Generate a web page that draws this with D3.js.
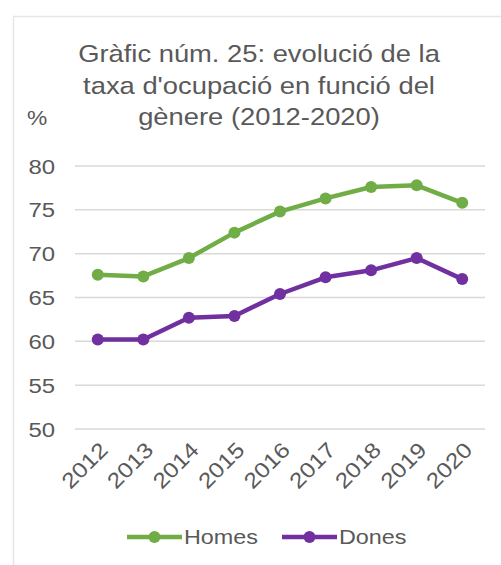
<!DOCTYPE html>
<html>
<head>
<meta charset="utf-8">
<script src="https://cdn.jsdelivr.net/npm/d3@7"></script>
<style>
body { margin: 0; background: #fff; }
text { font-family: "Liberation Sans", Arial, sans-serif; fill: #595959; }
</style>
</head>
<body>
<svg id="chart" width="501" height="565"></svg>
<script>
var years = ["2012", "2013", "2014", "2015", "2016", "2017", "2018", "2019", "2020"];
var homes = [67.6, 67.4, 69.5, 72.4, 74.8, 76.3, 77.6, 77.8, 75.8];
var dones = [60.2, 60.2, 62.7, 62.9, 65.4, 67.3, 68.1, 69.5, 67.1];
var yTicks = [50, 55, 60, 65, 70, 75, 80];
var titleLines = ["Gràfic núm. 25: evolució de la", "taxa d'ocupació en funció del", "gènere (2012-2020)"];

var series = [
    {name: "Homes", values: homes, color: "#70ad47"},
    {name: "Dones", values: dones, color: "#7030a0"}
];

var width = 501, height = 565;
var plot = {left: 75, right: 485, top: 166, bottom: 429};
var stretch = 1.14; // text in the source looks a bit wide

var svg = d3.select("#chart");

function at(px, py, extra) {
    return "translate(" + px + "," + py + ")" + (extra || "") + " scale(" + stretch + ",1)";
}

// outer frame
svg.append("rect")
    .attr("x", 13.5).attr("y", 16.5)
    .attr("width", width + 20).attr("height", height)
    .attr("fill", "none")
    .attr("stroke", "#e6e6e6")
    .attr("stroke-width", 1.5);

// title
svg.append("g").selectAll("text")
    .data(titleLines)
    .enter()
    .append("text")
    .attr("transform", (d, i) => at(259, 62 + i * 31.7))
    .attr("text-anchor", "middle")
    .attr("font-size", 24)
    .text(d => d);

svg.append("text")
    .attr("transform", at(27, 125))
    .attr("font-size", 20)
    .text("%");

var x = d3.scalePoint()
    .domain(years)
    .range([plot.left, plot.right])
    .padding(0.5);

var y = d3.scaleLinear()
    .domain([50, 80])
    .range([plot.bottom, plot.top]);

// gridlines
svg.append("g").selectAll("line")
    .data(yTicks)
    .enter()
    .append("line")
    .attr("x1", plot.left).attr("x2", plot.right)
    .attr("y1", d => y(d)).attr("y2", d => y(d))
    .attr("stroke", "#d9d9d9")
    .attr("stroke-width", 1.5);

// y labels
svg.append("g").selectAll("text")
    .data(yTicks)
    .enter()
    .append("text")
    .attr("transform", d => at(55, y(d)))
    .attr("dy", "0.36em")
    .attr("text-anchor", "end")
    .attr("font-size", 21)
    .text(d => d);

// x labels
svg.append("g").selectAll("text")
    .data(years)
    .enter()
    .append("text")
    .attr("transform", d => at(x(d) + 6, 446, " rotate(-45)"))
    .attr("text-anchor", "end")
    .attr("dy", "0.35em")
    .attr("font-size", 21.5)
    .text(d => d);

var line = d3.line()
    .x((d, i) => x(years[i]))
    .y(d => y(d));

var g = svg.append("g").selectAll("g.series")
    .data(series)
    .enter()
    .append("g")
    .attr("class", "series");

g.append("path")
    .attr("d", d => line(d.values))
    .attr("fill", "none")
    .attr("stroke", d => d.color)
    .attr("stroke-width", 4.5)
    .attr("stroke-linejoin", "round");

g.each(function(s) {
    d3.select(this).selectAll("circle")
	.data(s.values)
	.enter()
	.append("circle")
	.attr("cx", (d, i) => x(years[i]))
	.attr("cy", d => y(d))
	.attr("r", 6)
	.attr("fill", s.color);
});

// legend
var legendX = [127, 282];
var leg = svg.append("g").selectAll("g")
    .data(series)
    .enter()
    .append("g")
    .attr("transform", (d, i) => "translate(" + legendX[i] + ",537)");

leg.append("line")
    .attr("x1", 0).attr("x2", 55)
    .attr("stroke", d => d.color)
    .attr("stroke-width", 4.5);

leg.append("circle")
    .attr("cx", 27.5)
    .attr("r", 6)
    .attr("fill", d => d.color);

leg.append("text")
    .attr("transform", at(57, 0))
    .attr("dy", "0.35em")
    .attr("font-size", 20.5)
    .text(d => d.name);
</script>
</body>
</html>
